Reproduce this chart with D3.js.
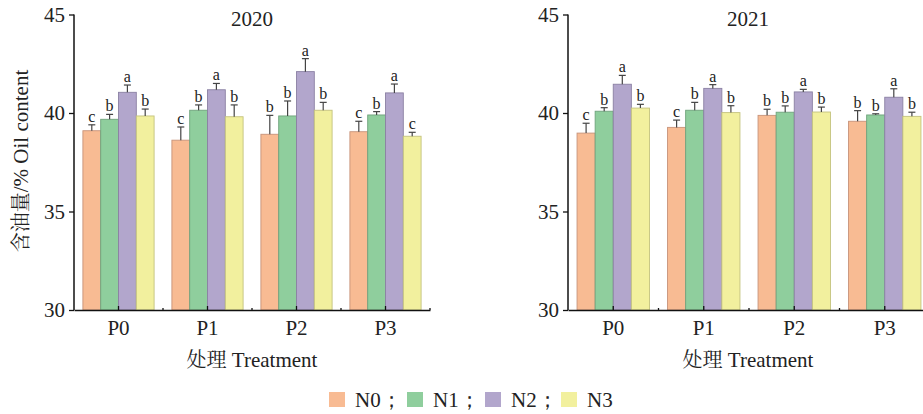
<!DOCTYPE html>
<html>
<head>
<meta charset="utf-8">
<script src="https://cdn.jsdelivr.net/npm/d3@7"></script>
<style>
body { margin: 0; background: #fff; }
svg { display: block; }
</style>
</head>
<body>
<svg id="chart" width="923" height="414"></svg>
<script>
'use strict';

var groups = ["P0", "P1", "P2", "P3"];
var series = ["N0", "N1", "N2", "N3"];
var yTicks = [30, 35, 40, 45];
var years = ["2020", "2021"];

// mean values, one row per P group (N0..N3)
var means2020 = [
	[39.10, 39.68, 41.05, 39.85],
	[38.62, 40.14, 41.18, 39.81],
	[38.92, 39.85, 42.10, 40.14],
	[39.05, 39.90, 41.02, 38.82]
];
var err2020 = [
	[0.30, 0.25, 0.37, 0.35],
	[0.67, 0.27, 0.32, 0.60],
	[0.96, 0.76, 0.66, 0.40],
	[0.53, 0.17, 0.45, 0.20]
];
var letters2020 = [
	["c", "b", "a", "b"],
	["c", "b", "a", "b"],
	["b", "b", "a", "b"],
	["c", "b", "a", "c"]
];

var means2021 = [
	[38.98, 40.09, 41.46, 40.25],
	[39.27, 40.14, 41.25, 40.02],
	[39.88, 40.04, 41.07, 40.05],
	[39.58, 39.90, 40.80, 39.83]
];
var err2021 = [
	[0.50, 0.18, 0.45, 0.19],
	[0.37, 0.40, 0.19, 0.35],
	[0.31, 0.32, 0.13, 0.25],
	[0.54, 0.06, 0.43, 0.21]
];
var letters2021 = [
	["c", "b", "a", "b"],
	["c", "b", "a", "b"],
	["b", "b", "a", "b"],
	["b", "b", "a", "b"]
];

var colors = ["#f8bb93", "#8fce9d", "#b2a6cc", "#f2f09e"];
var strokes = ["#c7937a", "#6fa37c", "#8a80a3", "#c4c27e"];

var SERIF = "'Liberation Serif', 'Times New Roman', serif";
var CJK = "'Noto Serif CJK SC', 'Noto Sans CJK SC', serif";

function font(sel, size) {
	return sel.style("font-family", SERIF).style("font-size", size + "px").style("fill", "#222");
}

var svg = d3.select("#chart");

var y = d3.scaleLinear().domain([30, 45]).range([310, 14.5]);

function drawPanel(x0, x1, title, means, errs, letters, showYLabel) {
	let g = svg.append("g");

	let x = d3.scaleBand().domain(groups).range([x0, x1]).paddingInner(0).paddingOuter(0);
	let xs = d3.scaleBand().domain(series).range([x.bandwidth() * 0.1, x.bandwidth() * 0.9]);

	// bars
	groups.forEach(function (p, i) {
		let gg = g.append("g").attr("transform", "translate(" + x(p) + ",0)");
		series.forEach(function (n, j) {
			let v = means[i][j];
			let e = errs[i][j];
			let cx = xs(n) + xs.bandwidth() / 2;
			gg.append("rect")
				.attr("x", xs(n))
				.attr("y", y(v))
				.attr("width", xs.bandwidth())
				.attr("height", y(30) - y(v))
				.attr("fill", colors[j])
				.attr("stroke", strokes[j])
				.attr("stroke-width", 0.9);
			gg.append("line")
				.attr("x1", cx).attr("x2", cx)
				.attr("y1", y(v)).attr("y2", y(v + e))
				.attr("stroke", "#444").attr("stroke-width", 1.2);
			gg.append("line")
				.attr("x1", cx - 3.5).attr("x2", cx + 3.5)
				.attr("y1", y(v + e)).attr("y2", y(v + e))
				.attr("stroke", "#444").attr("stroke-width", 1.2);
			font(gg.append("text"), 16)
				.attr("x", cx)
				.attr("y", y(v + e) - 3)
				.attr("text-anchor", "middle")
				.text(letters[i][j]);
		});
	});

	// y axis
	let ya = g.append("g")
		.attr("transform", "translate(" + x0 + ",0)")
		.call(d3.axisLeft(y).tickValues(yTicks).tickSize(5).tickPadding(4));
	ya.select(".domain").attr("stroke", "#111").attr("stroke-width", 1.5).attr("d", "M0," + y(45) + "V" + y(30));
	ya.selectAll(".tick line").attr("stroke", "#111").attr("stroke-width", 1.3);
	font(ya.selectAll(".tick text"), 21);

	// x axis
	let xa = g.append("g")
		.attr("transform", "translate(0," + y(30) + ")")
		.call(d3.axisBottom(x).tickSize(-4).tickPadding(10).tickSizeOuter(0));
	xa.select(".domain").attr("stroke", "#111").attr("stroke-width", 1.5);
	xa.selectAll(".tick line").attr("stroke", "#111").attr("stroke-width", 1.3);
	font(xa.selectAll(".tick text"), 21);

	// small boundary ticks
	groups.slice(1).concat(["end"]).forEach(function (p) {
		let bx = p === "end" ? x1 : x(p);
		xa.append("line")
			.attr("x1", bx).attr("x2", bx)
			.attr("y1", 0).attr("y2", -2)
			.attr("stroke", "#111").attr("stroke-width", 1.3);
	});

	let mid = (x0 + x1) / 2;
	if (x1 > 923) mid = mid - 1;
	font(g.append("text"), 21)
		.attr("x", mid).attr("y", 26)
		.attr("text-anchor", "middle")
		.text(title);

	let xl = font(g.append("text"), 21)
		.attr("x", mid).attr("y", 367)
		.attr("text-anchor", "middle");
	xl.append("tspan").style("font-family", CJK).style("font-size", "20px").text("处理");
	xl.append("tspan").text(" Treatment");

	if (showYLabel) {
		let yl = font(g.append("text"), 21)
			.attr("transform", "translate(28,161) rotate(-90)")
			.attr("text-anchor", "middle");
		yl.append("tspan").style("font-family", CJK).style("font-size", "20px").text("含油量");
		yl.append("tspan").text("/% Oil content");
	}
}

drawPanel(74, 430, years[0], means2020, err2020, letters2020, true);
drawPanel(568, 930, years[1], means2021, err2021, letters2021, false);

// legend
var legendX = [329, 407, 485, 561];
var legendLabels = ["N0；", "N1；", "N2；", "N3"];
var lg = svg.append("g");
series.forEach(function (n, j) {
	lg.append("rect")
		.attr("x", legendX[j]).attr("y", 392)
		.attr("width", 16).attr("height", 15)
		.attr("fill", colors[j]);
	font(lg.append("text"), 21)
		.attr("x", legendX[j] + 26).attr("y", 407)
		.text(legendLabels[j]);
});
</script>
</body>
</html>
